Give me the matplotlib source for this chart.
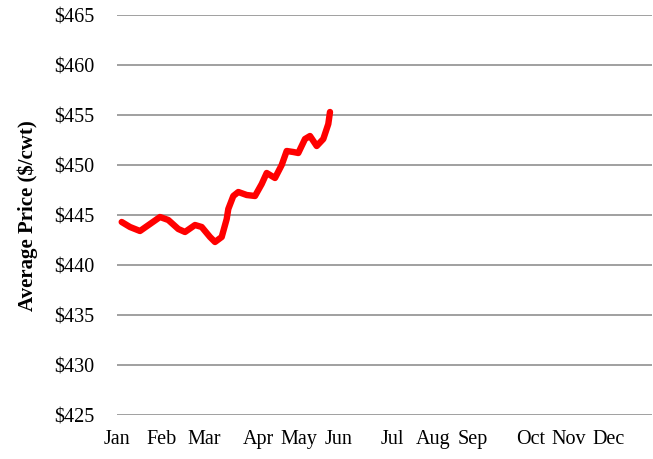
import matplotlib.pyplot as plt

# x position (arbitrary axis units, Jan = 0) and average price ($/cwt)
week_pos = [4.7, 13, 23, 33, 43, 51.3, 61.3, 68, 78, 84.7, 93, 98, 104.7,
            109.7, 111.3, 116.3, 121.3, 129.7, 138, 144.7, 149.7, 158, 164.7,
            169.7, 176.3, 181.3, 188, 193, 199.7, 206.3, 211.3, 213]
price = [444.3, 443.8, 443.4, 444.1, 444.8, 444.5, 443.6, 443.3, 444.0, 443.8,
         442.8, 442.3, 442.8, 444.6, 445.6, 446.9, 447.3, 447.0, 446.9, 448.1,
         449.2, 448.7, 450.0, 451.4, 451.3, 451.2, 452.6, 452.9, 451.9, 452.6,
         454.1, 455.3]

months = ['Jan', 'Feb', 'Mar', 'Apr', 'May', 'Jun',
          'Jul', 'Aug', 'Sep', 'Oct', 'Nov', 'Dec']
month_pos = [0, 45, 87, 141, 182, 222, 275, 316, 356, 414, 452, 492]
y_ticks = [425, 430, 435, 440, 445, 450, 455, 460, 465]

plt.rcParams['font.family'] = ['Liberation Serif', 'DejaVu Serif']

fig = plt.figure(figsize=(6.53, 4.60), dpi=100)
ax = fig.add_axes([117 / 653, 1 - 416 / 460, 535 / 653, 400 / 460])

ax.plot(week_pos, price, color='#ff0000', lw=4.6, solid_capstyle='round',
        solid_joinstyle='round', zorder=3)

ax.set_xlim(0, 535)
ax.set_ylim(425, 465)
ax.set_yticks(y_ticks)
ax.set_yticklabels([f'${v}' for v in y_ticks])
ax.set_xticks(month_pos)
ax.set_xticklabels(months)
ax.grid(True, axis='y', color='#999999', lw=1.3)
ax.set_axisbelow(True)
for s in ax.spines.values():
    s.set_visible(False)
ax.tick_params(axis='both', length=0, labelsize=14.5)
ax.tick_params(axis='y', pad=16)
ax.tick_params(axis='x', pad=10)
ax.set_ylabel('Average Price ($/cwt)', fontsize=15, fontweight='bold', labelpad=12)

plt.savefig('out.png', dpi=100)
